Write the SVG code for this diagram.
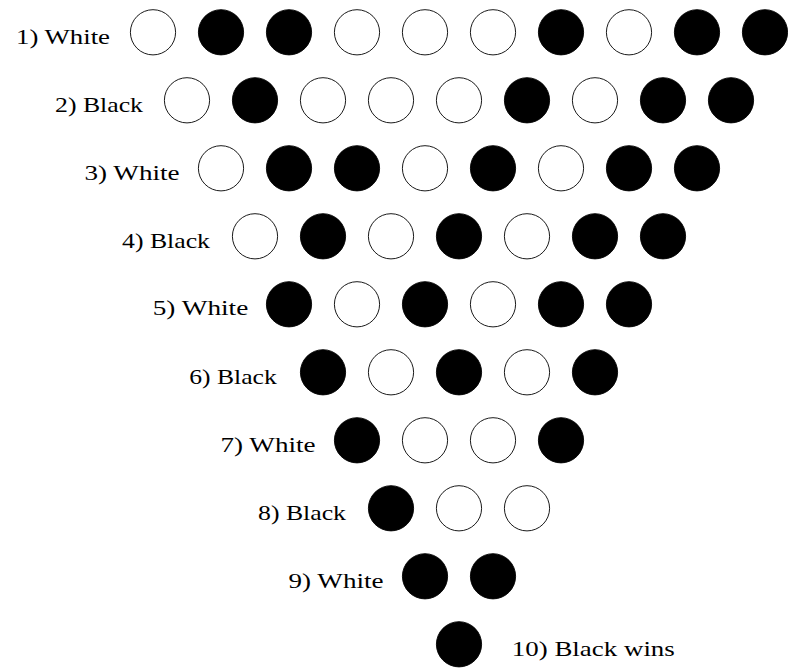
<svg xmlns="http://www.w3.org/2000/svg" width="788" height="669" viewBox="0 0 788 669">
<style>
.w{fill:#fff;stroke:#000;stroke-width:0.9}
.b{fill:#000;stroke:#000;stroke-width:0.9}
.t{font-family:"Liberation Serif","DejaVu Serif","Noto Serif",serif;font-size:22px;fill:#000;text-anchor:middle}
</style>
<defs>
<circle id="c" r="22.6"/>
</defs>
<rect width="788" height="669" fill="#fff"/>
<g id="connectors"/>
<g id="labels">
<text id="l1" class="t" x="63" y="44" textLength="94" lengthAdjust="spacingAndGlyphs">1) White</text>
<text id="l2" class="t" x="99" y="112" textLength="88" lengthAdjust="spacingAndGlyphs">2) Black</text>
<text id="l3" class="t" x="132" y="180" textLength="95" lengthAdjust="spacingAndGlyphs">3) White</text>
<text id="l4" class="t" x="166" y="248" textLength="88" lengthAdjust="spacingAndGlyphs">4) Black</text>
<text id="l5" class="t" x="200.5" y="315" textLength="95.5" lengthAdjust="spacingAndGlyphs">5) White</text>
<text id="l6" class="t" x="233" y="383.5" textLength="87.5" lengthAdjust="spacingAndGlyphs">6) Black</text>
<text id="l7" class="t" x="268" y="451.5" textLength="95" lengthAdjust="spacingAndGlyphs">7) White</text>
<text id="l8" class="t" x="302" y="519.5" textLength="88" lengthAdjust="spacingAndGlyphs">8) Black</text>
<text id="l9" class="t" x="336" y="587.5" textLength="95" lengthAdjust="spacingAndGlyphs">9) White</text>
<text id="l10" class="t" x="593.3" y="655.5" textLength="163" lengthAdjust="spacingAndGlyphs">10) Black wins</text>
</g>
<g id="row1">
<use id="r1c1" href="#c" class="w" x="153" y="32.3"/>
<use id="r1c2" href="#c" class="b" x="221" y="32.3"/>
<use id="r1c3" href="#c" class="b" x="289" y="32.3"/>
<use id="r1c4" href="#c" class="w" x="357" y="32.3"/>
<use id="r1c5" href="#c" class="w" x="425" y="32.3"/>
<use id="r1c6" href="#c" class="w" x="493" y="32.3"/>
<use id="r1c7" href="#c" class="b" x="561" y="32.3"/>
<use id="r1c8" href="#c" class="w" x="629" y="32.3"/>
<use id="r1c9" href="#c" class="b" x="697" y="32.3"/>
<use id="r1c10" href="#c" class="b" x="765" y="32.3"/>
</g>
<g id="row2">
<use id="r2c1" href="#c" class="w" x="187" y="100.3"/>
<use id="r2c2" href="#c" class="b" x="255" y="100.3"/>
<use id="r2c3" href="#c" class="w" x="323" y="100.3"/>
<use id="r2c4" href="#c" class="w" x="391" y="100.3"/>
<use id="r2c5" href="#c" class="w" x="459" y="100.3"/>
<use id="r2c6" href="#c" class="b" x="527" y="100.3"/>
<use id="r2c7" href="#c" class="w" x="595" y="100.3"/>
<use id="r2c8" href="#c" class="b" x="663" y="100.3"/>
<use id="r2c9" href="#c" class="b" x="731" y="100.3"/>
</g>
<g id="row3">
<use id="r3c1" href="#c" class="w" x="221" y="168.3"/>
<use id="r3c2" href="#c" class="b" x="289" y="168.3"/>
<use id="r3c3" href="#c" class="b" x="357" y="168.3"/>
<use id="r3c4" href="#c" class="w" x="425" y="168.3"/>
<use id="r3c5" href="#c" class="b" x="493" y="168.3"/>
<use id="r3c6" href="#c" class="w" x="561" y="168.3"/>
<use id="r3c7" href="#c" class="b" x="629" y="168.3"/>
<use id="r3c8" href="#c" class="b" x="697" y="168.3"/>
</g>
<g id="row4">
<use id="r4c1" href="#c" class="w" x="255" y="236.3"/>
<use id="r4c2" href="#c" class="b" x="323" y="236.3"/>
<use id="r4c3" href="#c" class="w" x="391" y="236.3"/>
<use id="r4c4" href="#c" class="b" x="459" y="236.3"/>
<use id="r4c5" href="#c" class="w" x="527" y="236.3"/>
<use id="r4c6" href="#c" class="b" x="595" y="236.3"/>
<use id="r4c7" href="#c" class="b" x="663" y="236.3"/>
</g>
<g id="row5">
<use id="r5c1" href="#c" class="b" x="289" y="304.3"/>
<use id="r5c2" href="#c" class="w" x="357" y="304.3"/>
<use id="r5c3" href="#c" class="b" x="425" y="304.3"/>
<use id="r5c4" href="#c" class="w" x="493" y="304.3"/>
<use id="r5c5" href="#c" class="b" x="561" y="304.3"/>
<use id="r5c6" href="#c" class="b" x="629" y="304.3"/>
</g>
<g id="row6">
<use id="r6c1" href="#c" class="b" x="323" y="372.3"/>
<use id="r6c2" href="#c" class="w" x="391" y="372.3"/>
<use id="r6c3" href="#c" class="b" x="459" y="372.3"/>
<use id="r6c4" href="#c" class="w" x="527" y="372.3"/>
<use id="r6c5" href="#c" class="b" x="595" y="372.3"/>
</g>
<g id="row7">
<use id="r7c1" href="#c" class="b" x="357" y="440.3"/>
<use id="r7c2" href="#c" class="w" x="425" y="440.3"/>
<use id="r7c3" href="#c" class="w" x="493" y="440.3"/>
<use id="r7c4" href="#c" class="b" x="561" y="440.3"/>
</g>
<g id="row8">
<use id="r8c1" href="#c" class="b" x="391" y="508.3"/>
<use id="r8c2" href="#c" class="w" x="459" y="508.3"/>
<use id="r8c3" href="#c" class="w" x="527" y="508.3"/>
</g>
<g id="row9">
<use id="r9c1" href="#c" class="b" x="425" y="576.3"/>
<use id="r9c2" href="#c" class="b" x="493" y="576.3"/>
</g>
<g id="row10">
<use id="r10c1" href="#c" class="b" x="459" y="644.3"/>
</g>
</svg>
